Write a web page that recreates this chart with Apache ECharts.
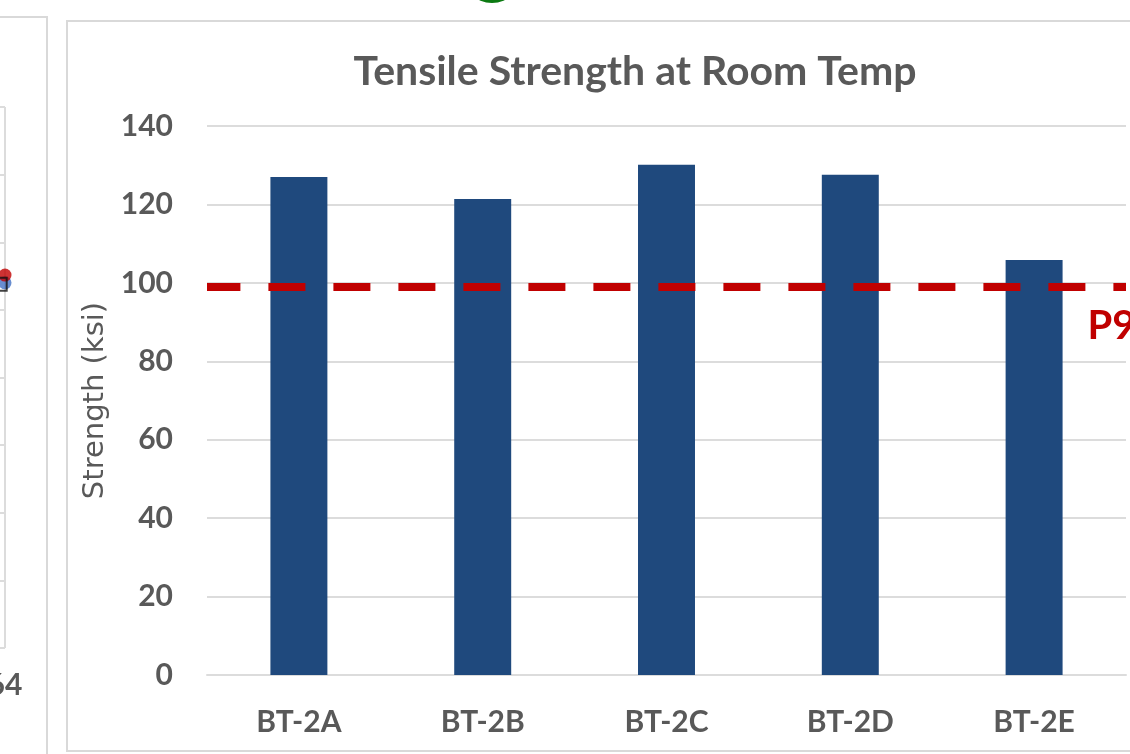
<!DOCTYPE html>
<html>
<head>
<meta charset="utf-8">
<script src="https://cdn.jsdelivr.net/npm/echarts@6/dist/echarts.min.js"></script>
<style>
  html, body { margin: 0; padding: 0; background: #fff; overflow: hidden; width: 1130px; height: 754px; }
  .panel { position: absolute; box-sizing: border-box; border: 2px solid #d9d9d9; background: #fff; }
  #badge { position: absolute; left: 462px; top: -57px; width: 60px; height: 60px; border-radius: 50%; background: #0c7a12; }
  #side { position: absolute; left: -520px; top: 0; width: 560px; height: 754px; }
  #chart { position: absolute; left: 0; top: 0; width: 1130px; height: 754px; }
</style>
</head>
<body>
<div class="panel" style="left:-20px; top:16px; width:68px; height:800px;"></div>
<div class="panel" style="left:66px; top:20px; width:1120px; height:732px;"></div>
<div id="badge"></div>
<div id="side"></div>
<div id="chart"></div>
<script>
// Room-temperature tensile results per specimen (ksi)
const categories = ['BT-2A', 'BT-2B', 'BT-2C', 'BT-2D', 'BT-2E'];
const strength = [127.0, 121.4, 130.1, 127.6, 105.8];

// Code minimum shown as a dashed reference line
const minStrength = 99;
const minLabel = 'P91';

// Value axis ticks
const yMin = 0, yMax = 140, yStep = 20;

// Neighbouring panel (only its right edge is in view)
const sideXMin = 0, sideXMax = 64, sideXStep = 16;
const sideYMin = 0, sideYMax = 160, sideYStep = 20;
const sideSquare = [[63.4, 107.6]];
const sideBlue = [[64, 108.0]];
const sideRed = [[64, 110.3]];

const textGrey = '#595959';
const gridGrey = '#dcdcdc';
const barBlue = '#1f497d';
const lineRed = '#c00000';

// Neighbouring scatter panel
const side = echarts.init(document.getElementById('side'), null, { renderer: 'canvas' });
side.setOption({
  animation: false,
  grid: { left: 0, right: 35, top: 107, bottom: 106 },
  xAxis: {
    type: 'value', min: sideXMin, max: sideXMax, interval: sideXStep,
    axisLine: { show: false }, axisTick: { show: false },
    splitLine: { show: true, lineStyle: { color: gridGrey, width: 2 } },
    axisLabel: { margin: 22, fontFamily: 'Lato', fontWeight: 'bold', fontSize: 30, color: textGrey }
  },
  yAxis: {
    type: 'value', min: sideYMin, max: sideYMax, interval: sideYStep,
    axisLine: { show: false }, axisTick: { show: false }, axisLabel: { show: false },
    splitLine: { show: true, lineStyle: { color: gridGrey, width: 2 } }
  },
  series: [
    {
      type: 'scatter', data: sideSquare, symbol: 'rect', symbolSize: 13,
      itemStyle: { color: 'rgba(0,0,0,0)', borderColor: '#111', borderWidth: 2 }, z: 5
    },
    { type: 'scatter', data: sideBlue, symbol: 'circle', symbolSize: 13, itemStyle: { color: '#4472c4' }, z: 3 },
    { type: 'scatter', data: sideRed, symbol: 'circle', symbolSize: 13, itemStyle: { color: '#c00000' }, z: 4 }
  ]
});

// Main bar chart
const chart = echarts.init(document.getElementById('chart'), null, { renderer: 'canvas' });
chart.setOption({
  animation: false,
  title: {
    text: 'Tensile Strength at Room Temp',
    left: 635,
    top: 51,
    padding: 0,
    textAlign: 'center',
    textStyle: { fontFamily: 'Lato', fontWeight: 'bold', fontSize: 41, color: textGrey }
  },
  grid: { left: 207, right: 4, top: 126, bottom: 79 },
  xAxis: {
    type: 'category', data: categories,
    axisLine: { show: true, lineStyle: { color: gridGrey, width: 2 } },
    axisTick: { show: false },
    axisLabel: { margin: 32, fontFamily: 'Lato', fontWeight: 'bold', fontSize: 30, color: textGrey }
  },
  yAxis: {
    type: 'value', min: yMin, max: yMax, interval: yStep,
    name: 'Strength (ksi)',
    nameLocation: 'middle',
    nameGap: 94,
    nameTextStyle: { fontFamily: 'DejaVu Sans', fontSize: 29, color: textGrey },
    axisLine: { show: false }, axisTick: { show: false },
    axisLabel: { margin: 34, fontFamily: 'Lato', fontWeight: 'bold', fontSize: 30, color: textGrey },
    splitLine: { show: true, lineStyle: { color: gridGrey, width: 2 } }
  },
  series: [
    {
      type: 'bar', data: strength,
      barWidth: '31%',
      itemStyle: { color: barBlue },
      markLine: {
        silent: true,
        symbol: ['none', 'none'],
        label: { show: false },
        lineStyle: { color: lineRed, width: 8, type: [37, 28], dashOffset: 3.6, opacity: 1 },
        data: [{ yAxis: minStrength }],
        z: 5
      },
      markPoint: {
        silent: true,
        symbol: 'circle',
        symbolSize: 1,
        itemStyle: { color: 'rgba(0,0,0,0)' },
        label: {
          show: true,
          position: [54, 20],
          align: 'left',
          verticalAlign: 'top',
          formatter: minLabel,
          fontFamily: 'Lato', fontWeight: 'bold', fontSize: 40, color: lineRed
        },
        data: [{ coord: [categories[categories.length - 1], minStrength] }]
      }
    }
  ]
});
</script>
</body>
</html>
